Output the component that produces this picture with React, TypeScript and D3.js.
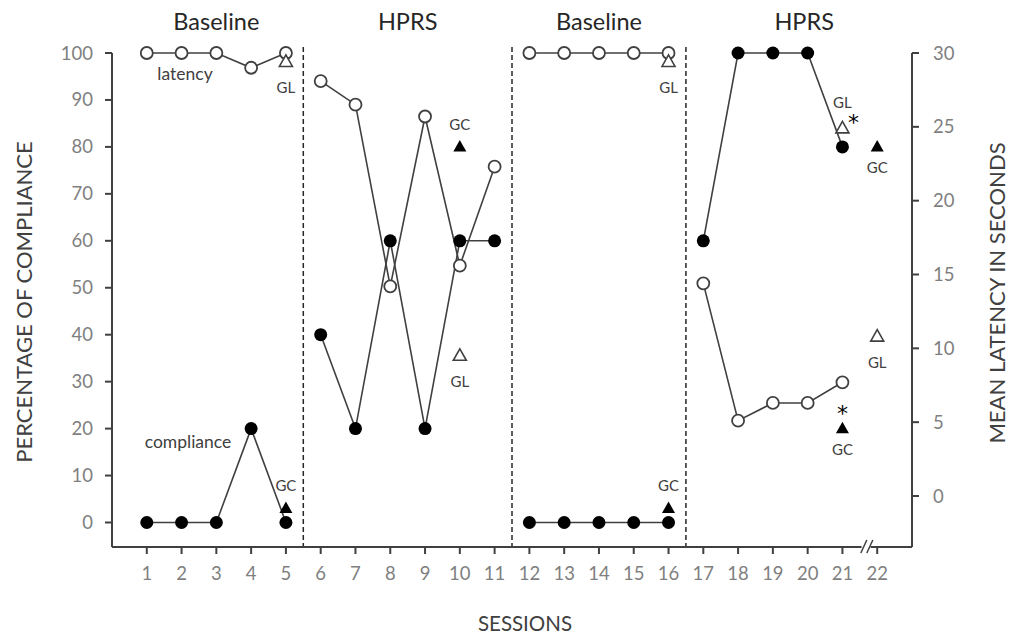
import React from "react";
import * as d3 from "d3";

// phase headings and where they sit (session units)
const phaseNames = ["Baseline", "HPRS", "Baseline", "HPRS"];
const phaseLabelAt = [3, 8.5, 14, 19.9];
const phaseBreaks = [5.5, 11.5, 16.5];

const sessionTicks = [1, 2, 3, 4, 5, 6, 7, 8, 9, 10, 11, 12, 13, 14, 15, 16, 17, 18, 19, 20, 21, 22];
const leftTicks = [0, 10, 20, 30, 40, 50, 60, 70, 80, 90, 100];
const rightTicks = [0, 5, 10, 15, 20, 25, 30];

// percentage of compliance (filled circles), one array per phase
const complianceSessions = [
  [1, 2, 3, 4, 5],
  [6, 7, 8, 9, 10, 11],
  [12, 13, 14, 15, 16],
  [17, 18, 19, 20, 21],
];
const complianceValues = [
  [0, 0, 0, 20, 0],
  [40, 20, 60, 20, 60, 60],
  [0, 0, 0, 0, 0],
  [60, 100, 100, 100, 80],
];

// mean latency in seconds (open circles)
const latencySessions = [
  [1, 2, 3, 4, 5],
  [6, 7, 8, 9, 10, 11],
  [12, 13, 14, 15, 16],
  [17, 18, 19, 20, 21],
];
const latencyValues = [
  [30, 30, 30, 29, 30],
  [28.1, 26.5, 14.2, 25.7, 15.6, 22.3],
  [30, 30, 30, 30, 30],
  [14.4, 5.1, 6.3, 6.3, 7.7],
];

// generalization probes
const glSessions = [5, 10, 16, 21, 22];
const glValues = [29.4, 9.5, 29.4, 24.9, 10.8];
const glLabelAbove = [false, false, false, true, false];

const gcSessions = [5, 10, 16, 21, 22];
const gcValues = [3, 80, 3, 20, 80];
const gcLabelAbove = [true, true, true, false, false];

const starSessions = [21, 21];
const starLatency = [25.5, null];
const starCompliance = [null, 24];

const W = 1010;
const H = 636;
const axisY = 547;
const ink = "#404040";
const grey = "#7f7f7f";
const font = "Lato, 'Open Sans', sans-serif";

function tri(cx: number, cy: number) {
  const hw = 6.5;
  const h = 11.5;
  return `M${cx},${cy - h * 0.6}L${cx + hw},${cy + h * 0.4}L${cx - hw},${cy + h * 0.4}Z`;
}

export default function App() {
  const x = d3.scaleLinear().domain([0, 23]).range([112, 912]);
  const yL = d3.scaleLinear().domain([0, 100]).range([522.5, 53]);
  const yR = d3.scaleLinear().domain([0, 30]).range([496, 53]);

  const compLine = d3
    .line<[number, number]>()
    .x((d) => x(d[0]))
    .y((d) => yL(d[1]));
  const latLine = d3
    .line<[number, number]>()
    .x((d) => x(d[0]))
    .y((d) => yR(d[1]));

  const xLeft = x(0);
  const xRight = x(23);

  return (
    <svg
      width={W}
      height={H}
      style={{ position: "absolute", left: 0, top: 0, background: "#fff" }}
      fontFamily={font}
    >
      <rect width={W} height={H} fill="#fff" />

      {/* phase headings */}
      {phaseNames.map((p, i) => (
        <text
          key={"ph" + i}
          x={x(phaseLabelAt[i])}
          y={30}
          textAnchor="middle"
          fontSize={23.5}
          fill="#262626"
        >
          {p}
        </text>
      ))}

      {/* phase change lines */}
      {phaseBreaks.map((b, i) => (
        <line
          key={"br" + i}
          x1={x(b)}
          x2={x(b)}
          y1={47}
          y2={axisY}
          stroke="#262626"
          strokeWidth={1.5}
          strokeDasharray="5,3"
        />
      ))}

      {/* left axis */}
      <line x1={xLeft} x2={xLeft} y1={yL(100)} y2={axisY} stroke={ink} strokeWidth={2} />
      {leftTicks.map((t) => (
        <g key={"l" + t}>
          <line x1={xLeft - 7} x2={xLeft} y1={yL(t)} y2={yL(t)} stroke={ink} strokeWidth={2} />
          <text x={93} y={yL(t) + 6.5} textAnchor="end" fontSize={18.5} fill={grey}>
            {t}
          </text>
        </g>
      ))}

      {/* right axis */}
      <line x1={xRight} x2={xRight} y1={yR(30)} y2={axisY} stroke={ink} strokeWidth={2} />
      {rightTicks.map((t) => (
        <g key={"r" + t}>
          <line x1={xRight} x2={xRight + 7} y1={yR(t)} y2={yR(t)} stroke={ink} strokeWidth={2} />
          <text x={xRight + 21} y={yR(t) + 6.5} textAnchor="start" fontSize={18.5} fill={grey}>
            {t}
          </text>
        </g>
      ))}

      {/* bottom axis */}
      <line x1={xLeft} x2={xRight} y1={axisY} y2={axisY} stroke={ink} strokeWidth={2} />
      {sessionTicks.map((s) => (
        <g key={"s" + s}>
          <line x1={x(s)} x2={x(s)} y1={axisY} y2={axisY + 7} stroke={ink} strokeWidth={2} />
          <text x={x(s)} y={axisY + 33} textAnchor="middle" fontSize={18.5} fill={grey}>
            {s}
          </text>
        </g>
      ))}
      {/* axis break between 21 and 22 */}
      <rect x={x(21.55)} y={axisY - 4} width={9} height={8} fill="#fff" />
      <line x1={x(21.5) + 1} x2={x(21.5) + 7} y1={axisY + 6} y2={axisY - 7} stroke={ink} strokeWidth={1.5} />
      <line x1={x(21.5) + 7} x2={x(21.5) + 13} y1={axisY + 6} y2={axisY - 7} stroke={ink} strokeWidth={1.5} />

      {/* axis titles */}
      <text
        transform={`translate(32,302) rotate(-90)`}
        textAnchor="middle"
        fontSize={22}
        fill={ink}
      >
        PERCENTAGE OF COMPLIANCE
      </text>
      <text
        transform={`translate(1005,293) rotate(-90)`}
        textAnchor="middle"
        fontSize={22}
        fill={ink}
      >
        MEAN LATENCY IN SECONDS
      </text>
      <text x={525} y={631} textAnchor="middle" fontSize={20.5} fill={ink}>
        SESSIONS
      </text>

      {/* series lines */}
      {complianceSessions.map((ss, i) => (
        <path
          key={"cl" + i}
          d={compLine(ss.map((s, j) => [s, complianceValues[i][j]] as [number, number])) || ""}
          fill="none"
          stroke={ink}
          strokeWidth={1.6}
        />
      ))}
      {latencySessions.map((ss, i) => (
        <path
          key={"ll" + i}
          d={latLine(ss.map((s, j) => [s, latencyValues[i][j]] as [number, number])) || ""}
          fill="none"
          stroke={ink}
          strokeWidth={1.6}
        />
      ))}

      {/* latency points */}
      {latencySessions.map((ss, i) =>
        ss.map((s, j) => (
          <circle
            key={"lp" + i + "-" + j}
            cx={x(s)}
            cy={yR(latencyValues[i][j])}
            r={6}
            fill="#fff"
            stroke={ink}
            strokeWidth={1.8}
          />
        ))
      )}

      {/* compliance points */}
      {complianceSessions.map((ss, i) =>
        ss.map((s, j) => (
          <circle
            key={"cp" + i + "-" + j}
            cx={x(s)}
            cy={yL(complianceValues[i][j])}
            r={6.5}
            fill="#000"
          />
        ))
      )}

      {/* GL probes */}
      {glSessions.map((s, i) => {
        const cx = x(s);
        const cy = yR(glValues[i]);
        return (
          <g key={"gl" + i}>
            <path d={tri(cx, cy)} fill="#fff" stroke={ink} strokeWidth={1.6} />
            <text
              x={cx}
              y={glLabelAbove[i] ? cy - 20 : cy + 31}
              textAnchor="middle"
              fontSize={15}
              fill={ink}
            >
              GL
            </text>
          </g>
        );
      })}

      {/* GC probes */}
      {gcSessions.map((s, i) => {
        const cx = x(s);
        const cy = yL(gcValues[i]);
        return (
          <g key={"gc" + i}>
            <path d={tri(cx, cy)} fill="#000" />
            <text
              x={cx}
              y={gcLabelAbove[i] ? cy - 17 : cy + 26}
              textAnchor="middle"
              fontSize={15}
              fill={ink}
            >
              GC
            </text>
          </g>
        );
      })}

      {/* asterisks */}
      {starSessions.map((s, i) => {
        const cy = starLatency[i] != null ? yR(starLatency[i] as number) : yL(starCompliance[i] as number);
        const cx = starLatency[i] != null ? x(s) + 11 : x(s);
        return (
          <text key={"st" + i} x={cx} y={cy + 11} textAnchor="middle" fontSize={22} fill="#000" fontFamily="'DejaVu Sans', sans-serif">
            *
          </text>
        );
      })}

      {/* series names */}
      <text x={185} y={80} textAnchor="middle" fontSize={17.5} fill={ink}>
        latency
      </text>
      <text x={188} y={448} textAnchor="middle" fontSize={17.5} fill={ink}>
        compliance
      </text>
    </svg>
  );
}
